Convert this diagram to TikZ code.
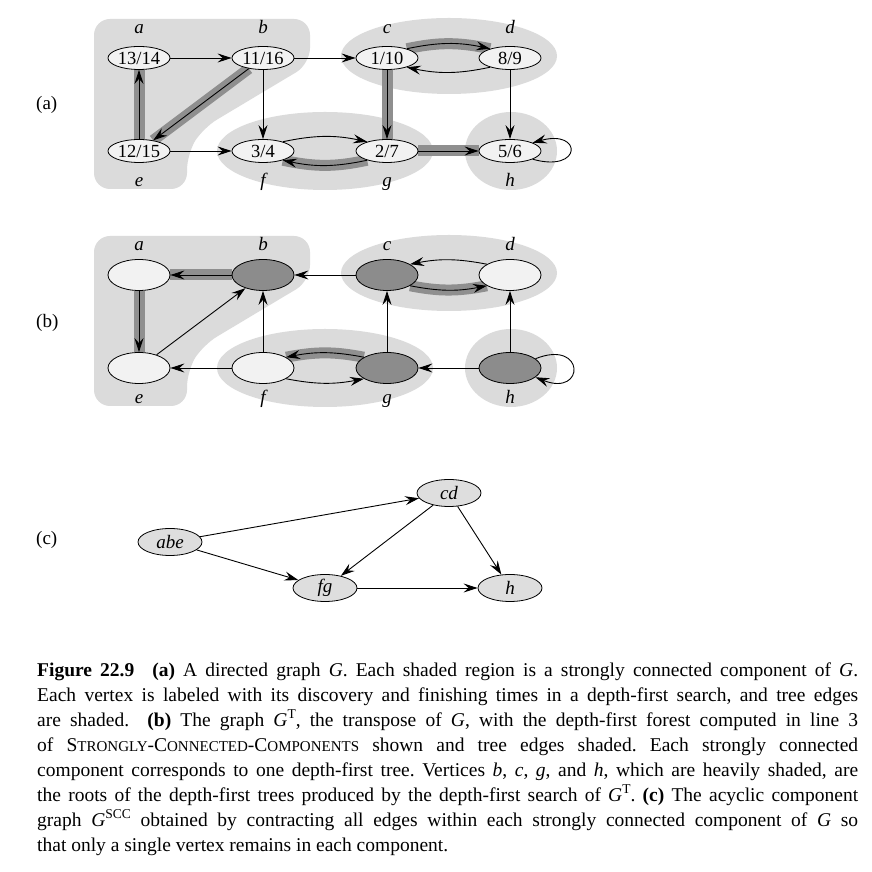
\documentclass[tikz,border=0pt]{standalone}
\usepackage{fontspec}
\setmainfont{Liberation Serif}
\usetikzlibrary{arrows.meta,shapes.geometric}
\pgfdeclarelayer{regions}
\pgfdeclarelayer{edges}
\pgfsetlayers{regions,edges,main}
\definecolor{regiongray}{gray}{0.86}
\definecolor{treegray}{gray}{0.56}
\definecolor{lightnode}{gray}{0.95}
\definecolor{darknode}{gray}{0.55}
\definecolor{cnode}{gray}{0.87}
\newcommand\fakesc[2]{#1{\fontsize{15}{15}\selectfont #2}}
\newcommand\supr[1]{\raisebox{0.42em}{\fontsize{13.5}{14}\selectfont #1}}
\newcommand\sccregions{%
  \fill[regiongray, rounded corners=16pt] (94,853) -- (310,853) -- (310,808) -- (203,744) -- (187,718) -- (187,683) -- (94,683) -- cycle;
  \fill[regiongray] (449,816) ellipse (108 and 38);
  \fill[regiongray] (325,721) ellipse (108 and 39);
  \fill[regiongray] (511,721) ellipse (46 and 39);
}
\tikzset{
  >={Stealth[length=14pt,width=9pt,inset=5pt]},
  edge/.style={->, line width=0.9pt, black},
  tree/.style={preaction={draw=treegray, line width=11pt, arrows=-}},
  vtx/.style={ellipse, draw=black, line width=0.8pt, fill=lightnode, minimum width=62pt, minimum height=23pt, inner sep=0pt, font=\fontsize{18.5}{20}\selectfont},
  vtxb/.style={vtx, minimum height=31pt},
  vtxd/.style={vtxb, fill=darknode},
  vtxc/.style={vtx, fill=cnode, minimum width=64pt, minimum height=27pt, font=\fontsize{19}{20}\selectfont\itshape},
  lbl/.style={anchor=base, inner sep=0pt, font=\fontsize{19}{20}\selectfont\itshape},
  part/.style={anchor=base west, inner sep=0pt, font=\fontsize{19}{20}\selectfont},
  caption/.style={anchor=north west, inner sep=0pt, text width=821pt, align=justify, font=\fontsize{19.5}{25}\selectfont\frenchspacing}
}
\begin{document}
\begin{tikzpicture}[x=1pt,y=1pt]
\useasboundingbox (0,0) rectangle (871,872);
\begin{pgfonlayer}{regions}
  \sccregions
  \begin{scope}[yshift=-217pt]
    \sccregions
  \end{scope}
\end{pgfonlayer}

% ---------- (a)
\node[part] (pa) at (36,762) {(a)};
\node[vtx] (a1) at (139,814) {13/14};
\node[vtx] (b1) at (263,814) {11/16};
\node[vtx] (c1) at (387,814) {1/10};
\node[vtx] (d1) at (510,814) {8/9};
\node[vtx] (e1) at (139,721) {12/15};
\node[vtx] (f1) at (263,721) {3/4};
\node[vtx] (g1) at (387,721) {2/7};
\node[vtx] (h1) at (510,721) {5/6};
\node[lbl] (la1) at (139,838) {a};
\node[lbl] (lb1) at (263,838) {b};
\node[lbl] (lc1) at (387,838) {c};
\node[lbl] (ld1) at (510,838) {d};
\node[lbl] (le1) at (139,685) {e};
\node[lbl] (lf1) at (263,685) {f};
\node[lbl] (lg1) at (387,685) {g};
\node[lbl] (lh1) at (510,685) {h};
\begin{pgfonlayer}{edges}
  \draw[edge] (a1) -- (b1);
  \draw[edge] (b1) -- (c1);
  \draw[edge] (e1) -- (f1);
  \draw[edge] (b1) -- (f1);
  \draw[edge] (d1) -- (h1);
  \draw[edge,tree] (b1) -- (e1);
  \draw[edge,tree] (e1) -- (a1);
  \draw[edge,tree] (c1) -- (g1);
  \draw[edge,tree] (g1) -- (h1);
  \draw[edge,tree] (c1.25) to[bend left=12] (d1.155);
  \draw[edge] (d1.205) to[bend left=12] (c1.-25);
  \draw[edge] (f1.25) to[bend left=12] (g1.155);
  \draw[edge,tree] (g1.205) to[bend left=12] (f1.-25);
  \draw[edge] (h1.-20) .. controls +(50,-14) and +(50,14) .. (h1.20);
\end{pgfonlayer}

% ---------- (b)
\node[part] (pb) at (36,544) {(b)};
\node[vtxb] (a2) at (139,597) {};
\node[vtxd] (b2) at (263,597) {};
\node[vtxd] (c2) at (387,597) {};
\node[vtxb] (d2) at (510,597) {};
\node[vtxb] (e2) at (139,504) {};
\node[vtxb] (f2) at (263,504) {};
\node[vtxd] (g2) at (387,504) {};
\node[vtxd] (h2) at (510,504) {};
\node[lbl] (la2) at (139,621) {a};
\node[lbl] (lb2) at (263,621) {b};
\node[lbl] (lc2) at (387,621) {c};
\node[lbl] (ld2) at (510,621) {d};
\node[lbl] (le2) at (139,468) {e};
\node[lbl] (lf2) at (263,468) {f};
\node[lbl] (lg2) at (387,468) {g};
\node[lbl] (lh2) at (510,468) {h};
\begin{pgfonlayer}{edges}
  \draw[edge,tree] (b2) -- (a2);
  \draw[edge,tree] (a2) -- (e2);
  \draw[edge] (e2) -- (b2);
  \draw[edge] (c2) -- (b2);
  \draw[edge] (f2) -- (b2);
  \draw[edge] (f2) -- (e2);
  \draw[edge] (g2) -- (c2);
  \draw[edge] (h2) -- (d2);
  \draw[edge] (h2) -- (g2);
  \draw[edge] (d2.155) to[bend right=11] (c2.25);
  \draw[edge,tree] (c2.-25) to[bend right=11] (d2.205);
  \draw[edge,tree] (g2.155) to[bend right=11] (f2.25);
  \draw[edge] (f2.-25) to[bend right=11] (g2.205);
  \draw[edge] (h2.20) .. controls +(50,20) and +(50,-20) .. (h2.-20);
\end{pgfonlayer}

% ---------- (c)
\node[part] (pc) at (36,327) {(c)};
\node[vtxc] (abe) at (170,330) {abe};
\node[vtxc] (cd) at (449,379) {cd};
\node[vtxc] (fg) at (325,284) {fg};
\node[vtxc] (hh) at (510,284) {h};
\begin{pgfonlayer}{edges}
  \draw[edge] (abe) -- (cd);
  \draw[edge] (abe) -- (fg);
  \draw[edge] (cd) -- (fg);
  \draw[edge] (cd) -- (hh);
  \draw[edge] (fg) -- (hh);
\end{pgfonlayer}

% ---------- caption
\node[caption] (cap) at (37,209) {\textbf{Figure 22.9}\hspace{18pt}\textbf{(a)} A directed graph \textit{G}. Each shaded region is a strongly connected component of \textit{G}.\linebreak
Each vertex is labeled with its discovery and finishing times in a depth-first search, and tree edges\linebreak
are shaded. \ \textbf{(b)} The graph \textit{G}\supr{T}, the transpose of \textit{G}, with the depth-first forest computed in line 3\linebreak
of \fakesc{S}{TRONGLY}-\fakesc{C}{ONNECTED}-\fakesc{C}{OMPONENTS} shown and tree edges shaded. Each strongly connected\linebreak
component corresponds to one depth-first tree. Vertices \textit{b}, \textit{c}, \textit{g}, and \textit{h}, which are heavily shaded, are\linebreak
the roots of the depth-first trees produced by the depth-first search of \textit{G}\supr{T}. \textbf{(c)} The acyclic component\linebreak
graph \textit{G}\supr{SCC} obtained by contracting all edges within each strongly connected component of \textit{G} so\linebreak
that only a single vertex remains in each component.};
\end{tikzpicture}
\end{document}
